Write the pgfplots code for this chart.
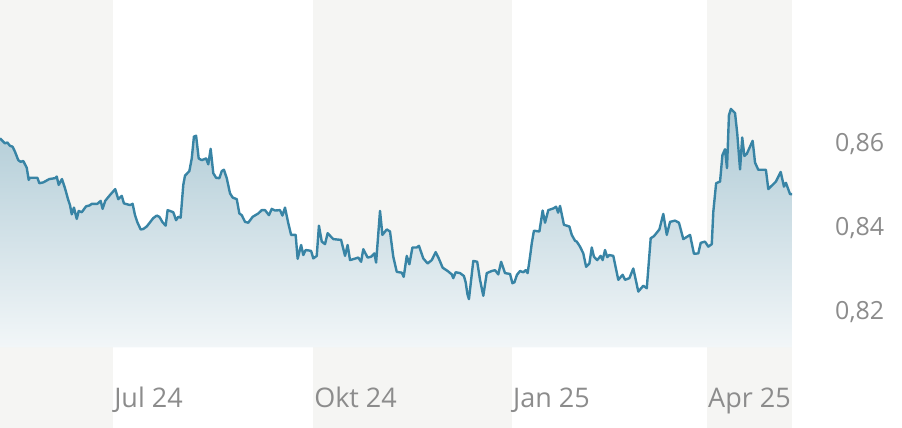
\documentclass[border=0pt]{standalone}
\usepackage{fontspec}
\setmainfont{Open Sans}
\usepackage{pgfplots}
\usepackage{pgfplotstable}
\pgfplotsset{compat=1.18}

\definecolor{lineblue}{RGB}{56,132,165}
\definecolor{filltop}{RGB}{174,202,213}
\definecolor{fillbot}{RGB}{242,246,248}
\definecolor{band}{RGB}{245,245,243}
\definecolor{labelgray}{RGB}{140,140,140}

% day (0 = 10 May 2024), rate
\pgfplotstableread{
day rate
0 0.8610
1.5 0.8602
2.3 0.8598
3.4 0.8600
4.6 0.8592
5.8 0.8590
6.9 0.8578
8.4 0.8558
9.5 0.8554
10.7 0.8556
12.3 0.8540
13.2 0.8511
13.8 0.8516
17.2 0.8516
18.1 0.8503
19.9 0.8505
22.7 0.8513
25.3 0.8515
26.1 0.8519
27.0 0.8499
28.5 0.8513
29.9 0.8491
31.4 0.8463
32.2 0.8451
33.0 0.8429
34.0 0.8445
35.3 0.8418
36.2 0.8437
37.6 0.8434
39.6 0.8448
41.1 0.8450
42.3 0.8454
44.8 0.8454
46.3 0.8461
47.2 0.8442
48.4 0.8461
50.6 0.8475
53.0 0.8489
54.4 0.8465
56.0 0.8473
57.0 0.8455
59.8 0.8451
61.0 0.8454
62.1 0.8427
63.2 0.8410
64.7 0.8393
65.9 0.8394
67.5 0.8400
70.5 0.8420
72.1 0.8426
73.3 0.8423
74.8 0.8410
76.2 0.8402
77.1 0.8439
79.7 0.8434
81.0 0.8415
82.0 0.8423
83.1 0.8421
84.3 0.8499
85.1 0.8521
87.1 0.8532
88.2 0.8562
89.2 0.8614
90.2 0.8616
91.4 0.8562
92.8 0.8558
94.8 0.8562
95.8 0.8548
96.9 0.8585
98.1 0.8527
99.4 0.8516
100.9 0.8515
102.0 0.8532
103.0 0.8535
104.3 0.8515
105.8 0.8479
107.0 0.8469
108.9 0.8465
110.1 0.8431
111.2 0.8427
112.7 0.8411
114.2 0.8409
116.2 0.8423
118.8 0.8431
120.4 0.8439
121.9 0.8439
123.7 0.8427
125.0 0.8442
126.5 0.8438
128.8 0.8439
129.9 0.8426
131.1 0.8445
132.6 0.8408
133.9 0.8380
136.0 0.8380
136.9 0.8323
138.5 0.8356
139.5 0.8332
140.6 0.8344
143.1 0.8342
144.1 0.8324
145.7 0.8330
146.7 0.8402
148.0 0.8364
149.5 0.8358
150.7 0.8384
153.3 0.8370
156.9 0.8368
158.7 0.8330
159.9 0.8356
161.0 0.8320
163.6 0.8324
164.8 0.8326
166.1 0.8316
167.1 0.8346
169.1 0.8326
170.7 0.8328
172.2 0.8336
173.0 0.8314
174.8 0.8437
175.9 0.8380
177.9 0.8393
179.4 0.8388
180.9 0.8328
182.5 0.8292
184.8 0.8290
185.7 0.8280
187.1 0.8330
188.3 0.8310
189.7 0.8350
191.7 0.8350
192.7 0.8354
194.7 0.8324
196.7 0.8312
198.6 0.8320
200.4 0.8339
201.9 0.8323
203.6 0.8302
205.9 0.8294
207.8 0.8286
208.5 0.8277
209.6 0.8291
211.6 0.8289
213.4 0.8282
214.2 0.8267
215.0 0.8239
215.7 0.8227
217.7 0.8318
219.5 0.8316
220.8 0.8273
222.3 0.8235
223.9 0.8289
226.2 0.8294
227.7 0.8296
229.2 0.8286
230.5 0.8316
232.3 0.8289
234.6 0.8287
235.7 0.8265
236.6 0.8267
237.8 0.8285
239.2 0.8294
240.7 0.8291
241.8 0.8296
242.7 0.8289
243.8 0.8328
244.6 0.8360
245.6 0.8390
248.1 0.8388
249.6 0.8438
250.7 0.8409
252.2 0.8439
254.5 0.8443
255.8 0.8447
256.7 0.8433
257.6 0.8449
259.4 0.8404
261.9 0.8400
263.0 0.8380
264.5 0.8366
265.3 0.8364
266.8 0.8352
268.3 0.8336
269.6 0.8304
271.1 0.8312
272.2 0.8350
273.2 0.8328
274.7 0.8320
276.3 0.8330
277.2 0.8320
278.3 0.8344
279.3 0.8327
280.3 0.8332
282.1 0.8330
284.4 0.8273
286.4 0.8285
287.5 0.8273
289.5 0.8277
291.3 0.8300
292.6 0.8269
293.6 0.8245
295.9 0.8259
297.5 0.8253
299.3 0.8372
300.8 0.8377
303.3 0.8393
305.1 0.8430
306.7 0.8380
308.2 0.8411
310.5 0.8414
312.3 0.8409
314.3 0.8370
317.4 0.8380
319.2 0.8335
321.2 0.8336
322.3 0.8361
324.3 0.8364
325.8 0.8352
327.4 0.8358
328.1 0.8435
329.4 0.8503
331.2 0.8507
332.3 0.8570
333.5 0.8584
334.4 0.8539
335.3 0.8665
336.2 0.8680
338.1 0.8670
339.1 0.8622
340.4 0.8536
341.4 0.8612
342.4 0.8568
343.5 0.8573
346.2 0.8604
347.3 0.8552
348.8 0.8535
352.3 0.8535
353.4 0.8489
356.9 0.8507
359.1 0.8530
360.6 0.8495
361.5 0.8504
363.4 0.8477
364.3 0.8477
}\ratedata

\pgfplotsset{
  frame/.style={
    at={(0,0)}, anchor=south west,
    scale only axis,
    width=792pt, height=428pt,
    xmin=0, xmax=364.3,
    ymin=0.79202, ymax=0.89393,
  }
}

\begin{document}
\begin{tikzpicture}
\path[use as bounding box] (0,0) rectangle (902pt,428pt);
% quarter bands behind everything
\begin{axis}[frame, hide axis]
\fill[band] (axis cs:0,0.79202) rectangle (axis cs:52,0.89393);
\fill[band] (axis cs:144,0.79202) rectangle (axis cs:235.5,0.89393);
\fill[band] (axis cs:325.2,0.79202) rectangle (axis cs:364.3,0.89393);
\end{axis}
\begin{axis}[
    frame,
    axis line style={draw=none},
    major tick length=0pt,
    tick style={draw=none},
    xtick={52,144,235.5,325.2},
    xticklabels={Jul 24, Okt 24, Jan 25, Apr 25},
    xticklabel style={anchor=base west, inner sep=0pt, yshift=20pt, xshift=1pt,
        font=\fontsize{27}{30}\selectfont, text=labelgray},
    ytick={0.82,0.84,0.86},
    yticklabel pos=right,
    yticklabel style={anchor=base west, inner sep=0pt, xshift=43pt, yshift=-8.7pt,
        font=\fontsize{25}{30}\selectfont, text=labelgray,
        /pgf/number format/.cd, use comma, fixed, fixed zerofill, precision=2,
        assume math mode=true},
]
\addplot[draw=none, top color=filltop, bottom color=fillbot]
    table[x=day, y=rate] {\ratedata}
    -- (axis cs:364.3,0.8112) -- (axis cs:0,0.8112) -- cycle;
\addplot[color=lineblue, line width=2.4pt, line join=round] table[x=day, y=rate] {\ratedata};
\end{axis}
\end{tikzpicture}
\end{document}
